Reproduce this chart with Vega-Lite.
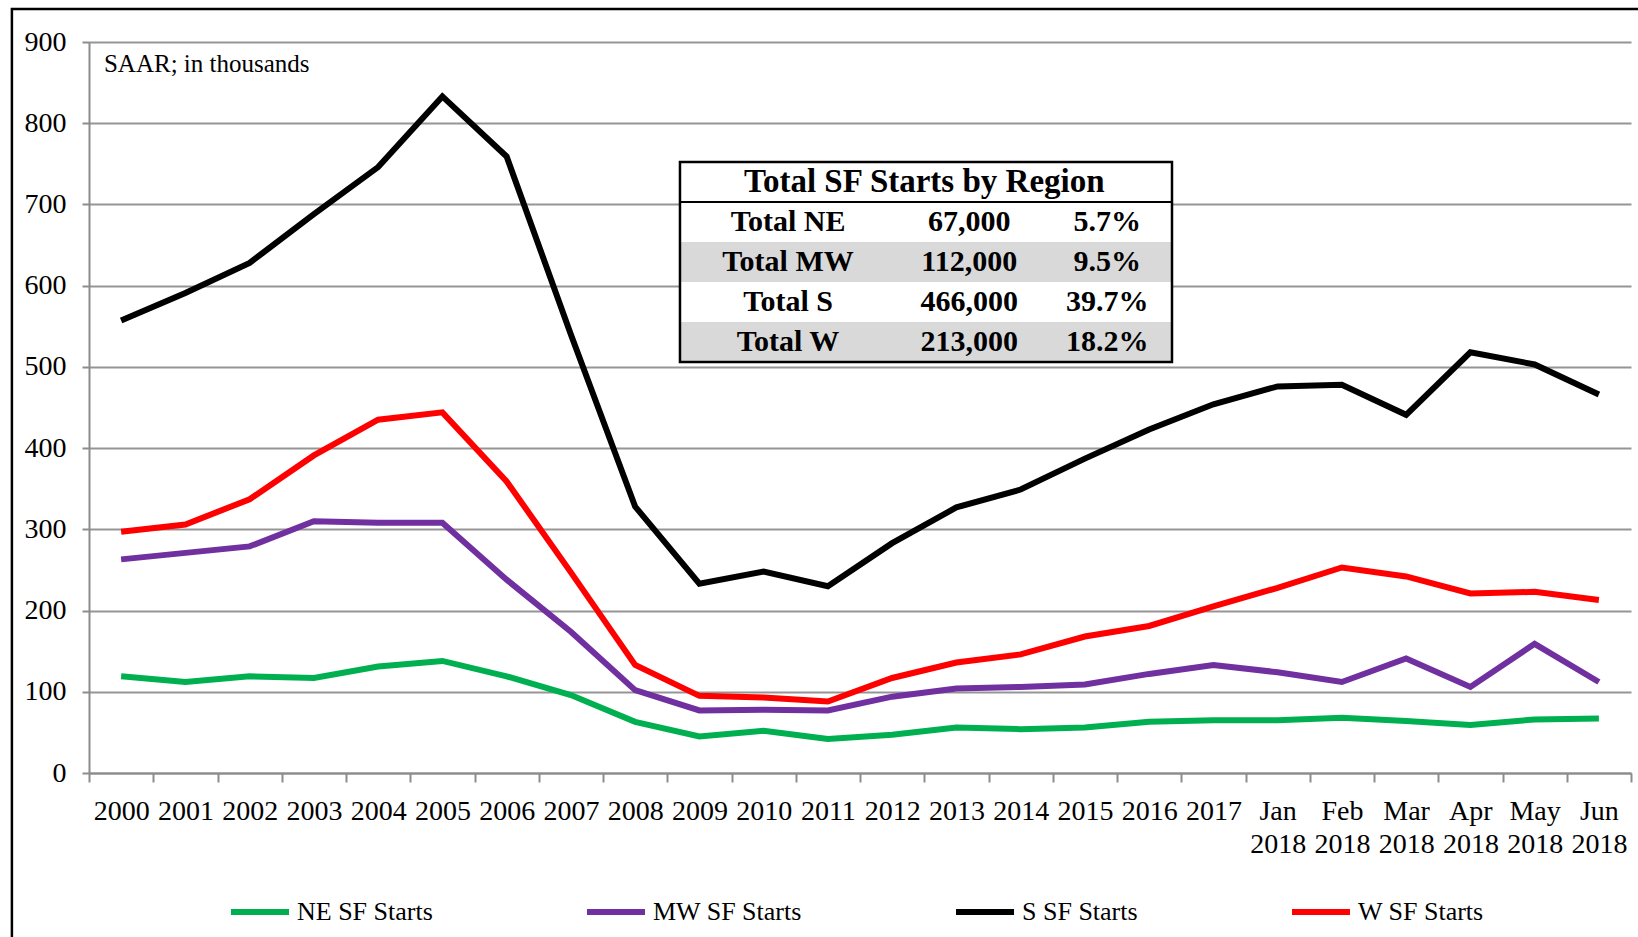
{
  "$schema": "https://vega.github.io/schema/vega-lite/v6.json",
  "width": 1542,
  "height": 731,
  "autosize": "none",
  "padding": {"left": 89, "top": 42, "right": 7, "bottom": 164},
  "background": "white",
  "config": {
    "view": {"stroke": null},
    "font": "Liberation Serif",
    "text": {"font": "Liberation Serif"}
  },
  "datasets": {
    "starts": [
      {"period": "2000", "series": "NE SF Starts", "value": 119},
      {"period": "2001", "series": "NE SF Starts", "value": 112},
      {"period": "2002", "series": "NE SF Starts", "value": 119},
      {"period": "2003", "series": "NE SF Starts", "value": 117},
      {"period": "2004", "series": "NE SF Starts", "value": 131},
      {"period": "2005", "series": "NE SF Starts", "value": 138},
      {"period": "2006", "series": "NE SF Starts", "value": 119},
      {"period": "2007", "series": "NE SF Starts", "value": 96},
      {"period": "2008", "series": "NE SF Starts", "value": 63},
      {"period": "2009", "series": "NE SF Starts", "value": 45},
      {"period": "2010", "series": "NE SF Starts", "value": 52},
      {"period": "2011", "series": "NE SF Starts", "value": 42},
      {"period": "2012", "series": "NE SF Starts", "value": 47},
      {"period": "2013", "series": "NE SF Starts", "value": 56},
      {"period": "2014", "series": "NE SF Starts", "value": 54},
      {"period": "2015", "series": "NE SF Starts", "value": 56},
      {"period": "2016", "series": "NE SF Starts", "value": 63},
      {"period": "2017", "series": "NE SF Starts", "value": 65},
      {"period": "Jan 2018", "series": "NE SF Starts", "value": 65},
      {"period": "Feb 2018", "series": "NE SF Starts", "value": 68},
      {"period": "Mar 2018", "series": "NE SF Starts", "value": 64},
      {"period": "Apr 2018", "series": "NE SF Starts", "value": 59},
      {"period": "May 2018", "series": "NE SF Starts", "value": 66},
      {"period": "Jun 2018", "series": "NE SF Starts", "value": 67},
      {"period": "2000", "series": "MW SF Starts", "value": 263},
      {"period": "2001", "series": "MW SF Starts", "value": 271},
      {"period": "2002", "series": "MW SF Starts", "value": 279},
      {"period": "2003", "series": "MW SF Starts", "value": 310},
      {"period": "2004", "series": "MW SF Starts", "value": 308},
      {"period": "2005", "series": "MW SF Starts", "value": 308},
      {"period": "2006", "series": "MW SF Starts", "value": 238},
      {"period": "2007", "series": "MW SF Starts", "value": 174},
      {"period": "2008", "series": "MW SF Starts", "value": 102},
      {"period": "2009", "series": "MW SF Starts", "value": 77},
      {"period": "2010", "series": "MW SF Starts", "value": 78},
      {"period": "2011", "series": "MW SF Starts", "value": 77},
      {"period": "2012", "series": "MW SF Starts", "value": 94},
      {"period": "2013", "series": "MW SF Starts", "value": 104},
      {"period": "2014", "series": "MW SF Starts", "value": 106},
      {"period": "2015", "series": "MW SF Starts", "value": 109},
      {"period": "2016", "series": "MW SF Starts", "value": 122},
      {"period": "2017", "series": "MW SF Starts", "value": 133},
      {"period": "Jan 2018", "series": "MW SF Starts", "value": 124},
      {"period": "Feb 2018", "series": "MW SF Starts", "value": 112},
      {"period": "Mar 2018", "series": "MW SF Starts", "value": 141},
      {"period": "Apr 2018", "series": "MW SF Starts", "value": 106},
      {"period": "May 2018", "series": "MW SF Starts", "value": 159},
      {"period": "Jun 2018", "series": "MW SF Starts", "value": 112},
      {"period": "2000", "series": "S SF Starts", "value": 557},
      {"period": "2001", "series": "S SF Starts", "value": 591},
      {"period": "2002", "series": "S SF Starts", "value": 628},
      {"period": "2003", "series": "S SF Starts", "value": 688},
      {"period": "2004", "series": "S SF Starts", "value": 746},
      {"period": "2005", "series": "S SF Starts", "value": 833},
      {"period": "2006", "series": "S SF Starts", "value": 759},
      {"period": "2007", "series": "S SF Starts", "value": 540},
      {"period": "2008", "series": "S SF Starts", "value": 328},
      {"period": "2009", "series": "S SF Starts", "value": 233},
      {"period": "2010", "series": "S SF Starts", "value": 248},
      {"period": "2011", "series": "S SF Starts", "value": 230},
      {"period": "2012", "series": "S SF Starts", "value": 283},
      {"period": "2013", "series": "S SF Starts", "value": 327},
      {"period": "2014", "series": "S SF Starts", "value": 349},
      {"period": "2015", "series": "S SF Starts", "value": 387},
      {"period": "2016", "series": "S SF Starts", "value": 423},
      {"period": "2017", "series": "S SF Starts", "value": 454},
      {"period": "Jan 2018", "series": "S SF Starts", "value": 476},
      {"period": "Feb 2018", "series": "S SF Starts", "value": 478},
      {"period": "Mar 2018", "series": "S SF Starts", "value": 441},
      {"period": "Apr 2018", "series": "S SF Starts", "value": 518},
      {"period": "May 2018", "series": "S SF Starts", "value": 503},
      {"period": "Jun 2018", "series": "S SF Starts", "value": 466},
      {"period": "2000", "series": "W SF Starts", "value": 297},
      {"period": "2001", "series": "W SF Starts", "value": 306},
      {"period": "2002", "series": "W SF Starts", "value": 337},
      {"period": "2003", "series": "W SF Starts", "value": 391},
      {"period": "2004", "series": "W SF Starts", "value": 435},
      {"period": "2005", "series": "W SF Starts", "value": 444},
      {"period": "2006", "series": "W SF Starts", "value": 359},
      {"period": "2007", "series": "W SF Starts", "value": 247},
      {"period": "2008", "series": "W SF Starts", "value": 133},
      {"period": "2009", "series": "W SF Starts", "value": 95},
      {"period": "2010", "series": "W SF Starts", "value": 93},
      {"period": "2011", "series": "W SF Starts", "value": 88},
      {"period": "2012", "series": "W SF Starts", "value": 117},
      {"period": "2013", "series": "W SF Starts", "value": 136},
      {"period": "2014", "series": "W SF Starts", "value": 146},
      {"period": "2015", "series": "W SF Starts", "value": 168},
      {"period": "2016", "series": "W SF Starts", "value": 181},
      {"period": "2017", "series": "W SF Starts", "value": 205},
      {"period": "Jan 2018", "series": "W SF Starts", "value": 228},
      {"period": "Feb 2018", "series": "W SF Starts", "value": 253},
      {"period": "Mar 2018", "series": "W SF Starts", "value": 242},
      {"period": "Apr 2018", "series": "W SF Starts", "value": 221},
      {"period": "May 2018", "series": "W SF Starts", "value": 223},
      {"period": "Jun 2018", "series": "W SF Starts", "value": 213}
    ],
    "table": [
      {"row": "Total SF Starts by Region", "starts": "", "share": ""},
      {"row": "Total NE", "starts": "67,000", "share": "5.7%"},
      {"row": "Total MW", "starts": "112,000", "share": "9.5%"},
      {"row": "Total S", "starts": "466,000", "share": "39.7%"},
      {"row": "Total W", "starts": "213,000", "share": "18.2%"}
    ]
  },
  "resolve": {"scale": {"x": "independent", "y": "independent"}},
  "layer": [
    {
      "data": {"name": "starts"},
      "mark": {"type": "line", "strokeWidth": 6, "strokeJoin": "miter"},
      "encoding": {
        "x": {
          "field": "period",
          "type": "nominal",
          "sort": null,
          "scale": {"paddingInner": 0, "paddingOuter": 0},
          "axis": {
            "title": null,
            "labelAngle": 0,
            "tickBand": "extent",
            "labelExpr": "split(datum.label, ' ')",
            "labelLineHeight": 33,
            "labelFont": "Liberation Serif",
            "labelFontSize": 28,
            "labelColor": "black",
            "labelBaseline": "top",
            "labelPadding": 15,
            "tickSize": 9,
            "tickColor": "#8c8c8c",
            "tickWidth": 2,
            "domainColor": "#8c8c8c",
            "domainWidth": 2,
            "grid": false,
            "labelOverlap": false
          }
        },
        "y": {
          "field": "value",
          "type": "quantitative",
          "scale": {"domain": [0, 900], "nice": false},
          "axis": {
            "title": null,
            "values": [0, 100, 200, 300, 400, 500, 600, 700, 800, 900],
            "labelFont": "Liberation Serif",
            "labelFontSize": 28,
            "labelColor": "black",
            "labelPadding": 16,
            "tickSize": 7,
            "tickColor": "#8c8c8c",
            "tickWidth": 2,
            "domainColor": "#8c8c8c",
            "domainWidth": 2,
            "grid": true,
            "gridColor": "#959595",
            "gridWidth": 2
          }
        },
        "color": {
          "field": "series",
          "type": "nominal",
          "scale": {
            "domain": ["NE SF Starts", "MW SF Starts", "S SF Starts", "W SF Starts"],
            "range": ["#00B050", "#7030A0", "#000000", "#FF0000"]
          },
          "legend": {
            "title": null,
            "orient": "none",
            "legendX": 139,
            "legendY": 838,
            "offset": 0,
            "direction": "horizontal",
            "columns": 4,
            "symbolType": "stroke",
            "symbolSize": 3364,
            "symbolStrokeWidth": 6,
            "labelFont": "Liberation Serif",
            "labelFontSize": 26,
            "labelColor": "black",
            "labelOffset": 5,
            "columnPadding": 142,
            "padding": 0
          }
        }
      }
    },
    {
      "data": {"values": [{}]},
      "mark": {"type": "rect", "fill": null, "fillOpacity": 0, "stroke": "black", "strokeWidth": 2.5},
      "encoding": {
        "x": {"datum": -1.2, "type": "quantitative", "scale": {"domain": [0, 24], "nice": false, "zero": false}, "axis": null},
        "x2": {"datum": 26},
        "y": {"datum": 940.6, "type": "quantitative", "scale": {"domain": [0, 900], "nice": false}, "axis": null},
        "y2": {"datum": -300}
      }
    },
    {
      "data": {"name": "table"},
      "mark": {"type": "rect"},
      "encoding": {
        "x": {"datum": 9.198, "type": "quantitative", "scale": {"domain": [0, 24], "nice": false, "zero": false}, "axis": null},
        "x2": {"datum": 16.856},
        "y": {
          "field": "row", "type": "nominal", "sort": null,
          "scale": {"domain": ["Total SF Starts by Region", "Total NE", "Total MW", "Total S", "Total W"], "range": [120, 320], "paddingInner": 0, "paddingOuter": 0, "round": false},
          "axis": null
        },
        "fill": {
          "field": "row", "type": "nominal",
          "scale": {"domain": ["Total SF Starts by Region", "Total NE", "Total MW", "Total S", "Total W"], "range": ["#ffffff", "#ffffff", "#d9d9d9", "#ffffff", "#d9d9d9"]},
          "legend": null
        }
      }
    },
    {
      "data": {"values": [{}]},
      "mark": {"type": "rect", "fill": null, "fillOpacity": 0, "stroke": "black", "strokeWidth": 2.5},
      "encoding": {
        "x": {"datum": 9.198, "type": "quantitative", "scale": {"domain": [0, 24], "nice": false, "zero": false}, "axis": null},
        "x2": {"datum": 16.856},
        "y": {"datum": 752.3, "type": "quantitative", "scale": {"domain": [0, 900], "nice": false}, "axis": null},
        "y2": {"datum": 506.0}
      }
    },
    {
      "data": {"values": [{}]},
      "mark": {"type": "rule", "stroke": "black", "strokeWidth": 2},
      "encoding": {
        "x": {"datum": 9.198, "type": "quantitative", "scale": {"domain": [0, 24], "nice": false, "zero": false}, "axis": null},
        "x2": {"datum": 16.856},
        "y": {"datum": 703.0, "type": "quantitative", "scale": {"domain": [0, 900], "nice": false}, "axis": null}
      }
    },
    {
      "data": {"name": "table"},
      "transform": [{"filter": "datum.starts === ''"}],
      "mark": {"type": "text", "font": "Liberation Serif", "fontWeight": "bold", "fontSize": 33, "align": "center", "baseline": "middle", "color": "black"},
      "encoding": {
        "x": {"datum": 13.0, "type": "quantitative", "scale": {"domain": [0, 24], "nice": false, "zero": false}, "axis": null},
        "y": {
          "field": "row", "type": "nominal", "sort": null,
          "scale": {"domain": ["Total SF Starts by Region", "Total NE", "Total MW", "Total S", "Total W"], "range": [120, 320], "paddingInner": 0, "paddingOuter": 0, "round": false},
          "axis": null
        },
        "text": {"field": "row"}
      }
    },
    {
      "data": {"name": "table"},
      "transform": [{"filter": "datum.starts !== ''"}],
      "mark": {"type": "text", "font": "Liberation Serif", "fontWeight": "bold", "fontSize": 30, "align": "center", "baseline": "middle", "color": "black"},
      "encoding": {
        "x": {"datum": 10.88, "type": "quantitative", "scale": {"domain": [0, 24], "nice": false, "zero": false}, "axis": null},
        "y": {
          "field": "row", "type": "nominal", "sort": null,
          "scale": {"domain": ["Total SF Starts by Region", "Total NE", "Total MW", "Total S", "Total W"], "range": [120, 320], "paddingInner": 0, "paddingOuter": 0, "round": false},
          "axis": null
        },
        "text": {"field": "row"}
      }
    },
    {
      "data": {"name": "table"},
      "transform": [{"filter": "datum.starts !== ''"}],
      "mark": {"type": "text", "font": "Liberation Serif", "fontWeight": "bold", "fontSize": 30, "align": "center", "baseline": "middle", "color": "black"},
      "encoding": {
        "x": {"datum": 13.70, "type": "quantitative", "scale": {"domain": [0, 24], "nice": false, "zero": false}, "axis": null},
        "y": {
          "field": "row", "type": "nominal", "sort": null,
          "scale": {"domain": ["Total SF Starts by Region", "Total NE", "Total MW", "Total S", "Total W"], "range": [120, 320], "paddingInner": 0, "paddingOuter": 0, "round": false},
          "axis": null
        },
        "text": {"field": "starts"}
      }
    },
    {
      "data": {"name": "table"},
      "transform": [{"filter": "datum.starts !== ''"}],
      "mark": {"type": "text", "font": "Liberation Serif", "fontWeight": "bold", "fontSize": 30, "align": "center", "baseline": "middle", "color": "black"},
      "encoding": {
        "x": {"datum": 15.85, "type": "quantitative", "scale": {"domain": [0, 24], "nice": false, "zero": false}, "axis": null},
        "y": {
          "field": "row", "type": "nominal", "sort": null,
          "scale": {"domain": ["Total SF Starts by Region", "Total NE", "Total MW", "Total S", "Total W"], "range": [120, 320], "paddingInner": 0, "paddingOuter": 0, "round": false},
          "axis": null
        },
        "text": {"field": "share"}
      }
    },
    {
      "data": {"values": [{"note": "SAAR; in thousands"}]},
      "mark": {"type": "text", "font": "Liberation Serif", "fontSize": 25, "align": "left", "baseline": "middle", "color": "black"},
      "encoding": {
        "x": {"datum": 0.233, "type": "quantitative", "scale": {"domain": [0, 24], "nice": false, "zero": false}, "axis": null},
        "y": {"datum": 873, "type": "quantitative", "scale": {"domain": [0, 900], "nice": false}, "axis": null},
        "text": {"field": "note"}
      }
    }
  ]
}
